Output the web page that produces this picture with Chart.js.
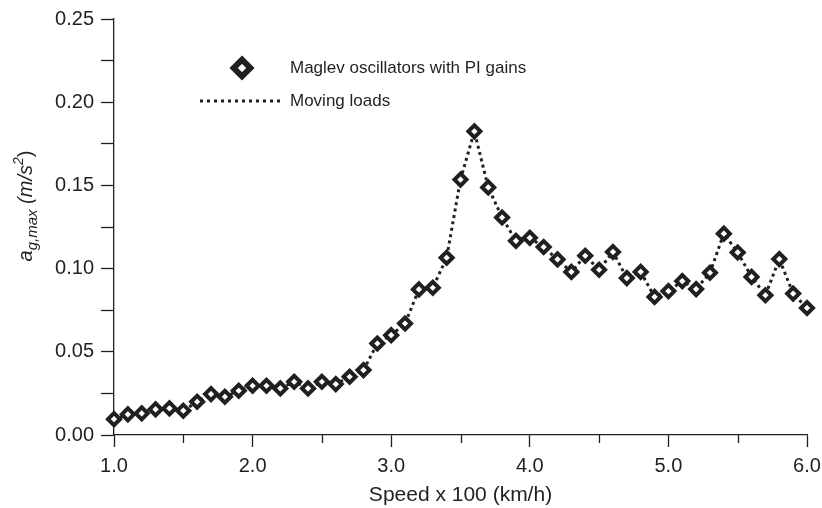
<!DOCTYPE html>
<html>
<head>
<meta charset="utf-8">
<script src="https://cdn.jsdelivr.net/npm/chart.js@4/dist/chart.umd.min.js"></script>
<style>
  body { margin: 0; background: #fff; }
  canvas { display: block; }
</style>
</head>
<body>
<canvas id="chart" width="822" height="508"></canvas>
<script>
// speed (x 100 km/h)
const speeds = [1.0, 1.1, 1.2, 1.3, 1.4, 1.5, 1.6, 1.7, 1.8, 1.9,
  2.0, 2.1, 2.2, 2.3, 2.4, 2.5, 2.6, 2.7, 2.8, 2.9,
  3.0, 3.1, 3.2, 3.3, 3.4, 3.5, 3.6, 3.7, 3.8, 3.9,
  4.0, 4.1, 4.2, 4.3, 4.4, 4.5, 4.6, 4.7, 4.8, 4.9,
  5.0, 5.1, 5.2, 5.3, 5.4, 5.5, 5.6, 5.7, 5.8, 5.9, 6.0];

// a_g,max (m/s2) - maglev oscillators with PI gains
const maglevPI = [0.0095, 0.0124, 0.0130, 0.0154, 0.0160, 0.0146, 0.0200, 0.0246, 0.0230, 0.0266,
  0.0296, 0.0296, 0.0280, 0.0320, 0.0280, 0.0320, 0.0306, 0.0350, 0.0390, 0.0550,
  0.0600, 0.0670, 0.0875, 0.0885, 0.1065, 0.1535, 0.1825, 0.1488, 0.1307, 0.1167,
  0.1185, 0.1130, 0.1055, 0.0980, 0.1077, 0.0993, 0.1100, 0.0943, 0.0980, 0.0830,
  0.0865, 0.0925, 0.0877, 0.0975, 0.1210, 0.1097, 0.0950, 0.0840, 0.1057, 0.0850, 0.0763];

// moving loads - same curve in the figure
const movingLoads = maglevPI;

const xTicks = [1, 2, 3, 4, 5, 6];
const yTicks = [0, 0.05, 0.1, 0.15, 0.2, 0.25];

const ink = '#231f20';
const fontFam = '"Liberation Sans", Arial, sans-serif';

const isMajor = (v, list) => list.some(t => Math.abs(t - v) < 1e-6);

// y-axis title with sub/superscripts
const yTitlePlugin = {
  id: 'yTitle',
  afterDraw(chart) {
    const ctx = chart.ctx;
    const parts = [
      { t: 'a', size: 20, dy: 0 },
      { t: 'g,max', size: 15, dy: 5 },
      { t: ' (m/s', size: 20, dy: 0 },
      { t: '2', size: 14, dy: -9 },
      { t: ')', size: 20, dy: 0, upright: true }
    ];
    ctx.save();
    let total = 0;
    parts.forEach(p => {
      ctx.font = (p.upright ? '' : 'italic ') + p.size + 'px ' + fontFam;
      p.w = ctx.measureText(p.t).width;
      total += p.w;
    });
    ctx.translate(32, 206);
    ctx.rotate(-Math.PI / 2);
    ctx.fillStyle = ink;
    ctx.textBaseline = 'alphabetic';
    let x = -total / 2;
    parts.forEach(p => {
      ctx.font = (p.upright ? '' : 'italic ') + p.size + 'px ' + fontFam;
      ctx.fillText(p.t, x, p.dy);
      x += p.w;
    });
    ctx.restore();
  }
};

// minor ticks on x axis (shorter than the major ones)
const minorTickPlugin = {
  id: 'minorTicks',
  afterDraw(chart) {
    const sx = chart.scales.x;
    const ctx = chart.ctx;
    const y0 = chart.chartArea.bottom;
    ctx.save();
    ctx.strokeStyle = ink;
    ctx.lineWidth = 1.3;
    sx.ticks.forEach(t => {
      if (isMajor(t.value, xTicks)) return;
      const px = Math.round(sx.getPixelForValue(t.value)) + 0.5;
      ctx.beginPath();
      ctx.moveTo(px, y0);
      ctx.lineTo(px, y0 + 8);
      ctx.stroke();
    });
    ctx.restore();
  }
};

// legend placed inside the plot
const legendPlugin = {
  id: 'innerLegend',
  afterDraw(chart) {
    const ctx = chart.ctx;
    const ds0 = chart.data.datasets[0];
    const ds1 = chart.data.datasets[1];
    ctx.save();
    // marker
    ctx.fillStyle = '#fff';
    ctx.strokeStyle = ink;
    ctx.lineWidth = 6;
    ctx.beginPath();
    ctx.moveTo(242, 68 - 8.3); ctx.lineTo(242 + 8.3, 68);
    ctx.lineTo(242, 68 + 8.3); ctx.lineTo(242 - 8.3, 68);
    ctx.closePath();
    ctx.fill();
    ctx.stroke();
    // dotted line
    ctx.setLineDash([3, 4]);
    ctx.lineWidth = 3;
    ctx.beginPath();
    ctx.moveTo(200, 101);
    ctx.lineTo(284, 101);
    ctx.stroke();
    ctx.setLineDash([]);
    ctx.fillStyle = ink;
    ctx.font = '17px ' + fontFam;
    ctx.textBaseline = 'middle';
    ctx.fillText(ds0.label, 290, 68);
    ctx.fillText(ds1.label, 290, 101);
    ctx.restore();
  }
};

new Chart(document.getElementById('chart'), {
  type: 'scatter',
  data: {
    datasets: [
      {
        label: 'Maglev oscillators with PI gains',
        data: speeds.map((s, i) => ({ x: s, y: maglevPI[i] })),
        showLine: false,
        pointStyle: 'rectRot',
        pointRadius: 6,
        pointBorderWidth: 4,
        pointBackgroundColor: '#fff',
        pointBorderColor: ink,
        clip: false,
        order: 0
      },
      {
        label: 'Moving loads',
        data: speeds.map((s, i) => ({ x: s, y: movingLoads[i] })),
        showLine: true,
        pointRadius: 0,
        borderColor: ink,
        borderWidth: 3,
        borderDash: [3, 3.5],
        tension: 0,
        clip: false,
        order: 1
      }
    ]
  },
  options: {
    responsive: false,
    animation: false,
    layout: { padding: { top: 18, right: 15, left: 0, bottom: 0 } },
    plugins: {
      legend: { display: false },
      tooltip: { enabled: false }
    },
    scales: {
      x: {
        type: 'linear',
        min: 1,
        max: 6,
        afterFit(scale) {
          scale.height = 73;
          scale.paddingLeft = 0;
          scale.paddingRight = 0;
        },
        ticks: {
          stepSize: 0.5,
          autoSkip: false,
          maxRotation: 0,
          padding: 7,
          color: ink,
          font: { family: fontFam, size: 20 },
          callback: v => isMajor(v, xTicks) ? v.toFixed(1) : ''
        },
        grid: {
          drawOnChartArea: false,
          drawTicks: true,
          tickLength: 12,
          tickWidth: 1.3,
          tickColor: c => (c.tick && isMajor(c.tick.value, xTicks)) ? ink : 'rgba(0,0,0,0)'
        },
        border: { color: ink, width: 1.3 },
        title: {
          display: true,
          text: 'Speed x 100 (km/h)',
          color: ink,
          font: { family: fontFam, size: 21 },
          padding: { top: 0, bottom: 0 }
        }
      },
      y: {
        min: 0,
        max: 0.25,
        afterFit(scale) { scale.width = 114; },
        ticks: {
          stepSize: 0.025,
          autoSkip: false,
          padding: 7,
          color: ink,
          font: { family: fontFam, size: 20 },
          callback: v => isMajor(v, yTicks) ? v.toFixed(2) : ''
        },
        grid: {
          drawOnChartArea: false,
          drawTicks: true,
          tickLength: 13,
          tickWidth: 1.3,
          tickColor: ink
        },
        border: { color: ink, width: 1.3 }
      }
    }
  },
  plugins: [yTitlePlugin, minorTickPlugin, legendPlugin]
});
</script>
</body>
</html>
